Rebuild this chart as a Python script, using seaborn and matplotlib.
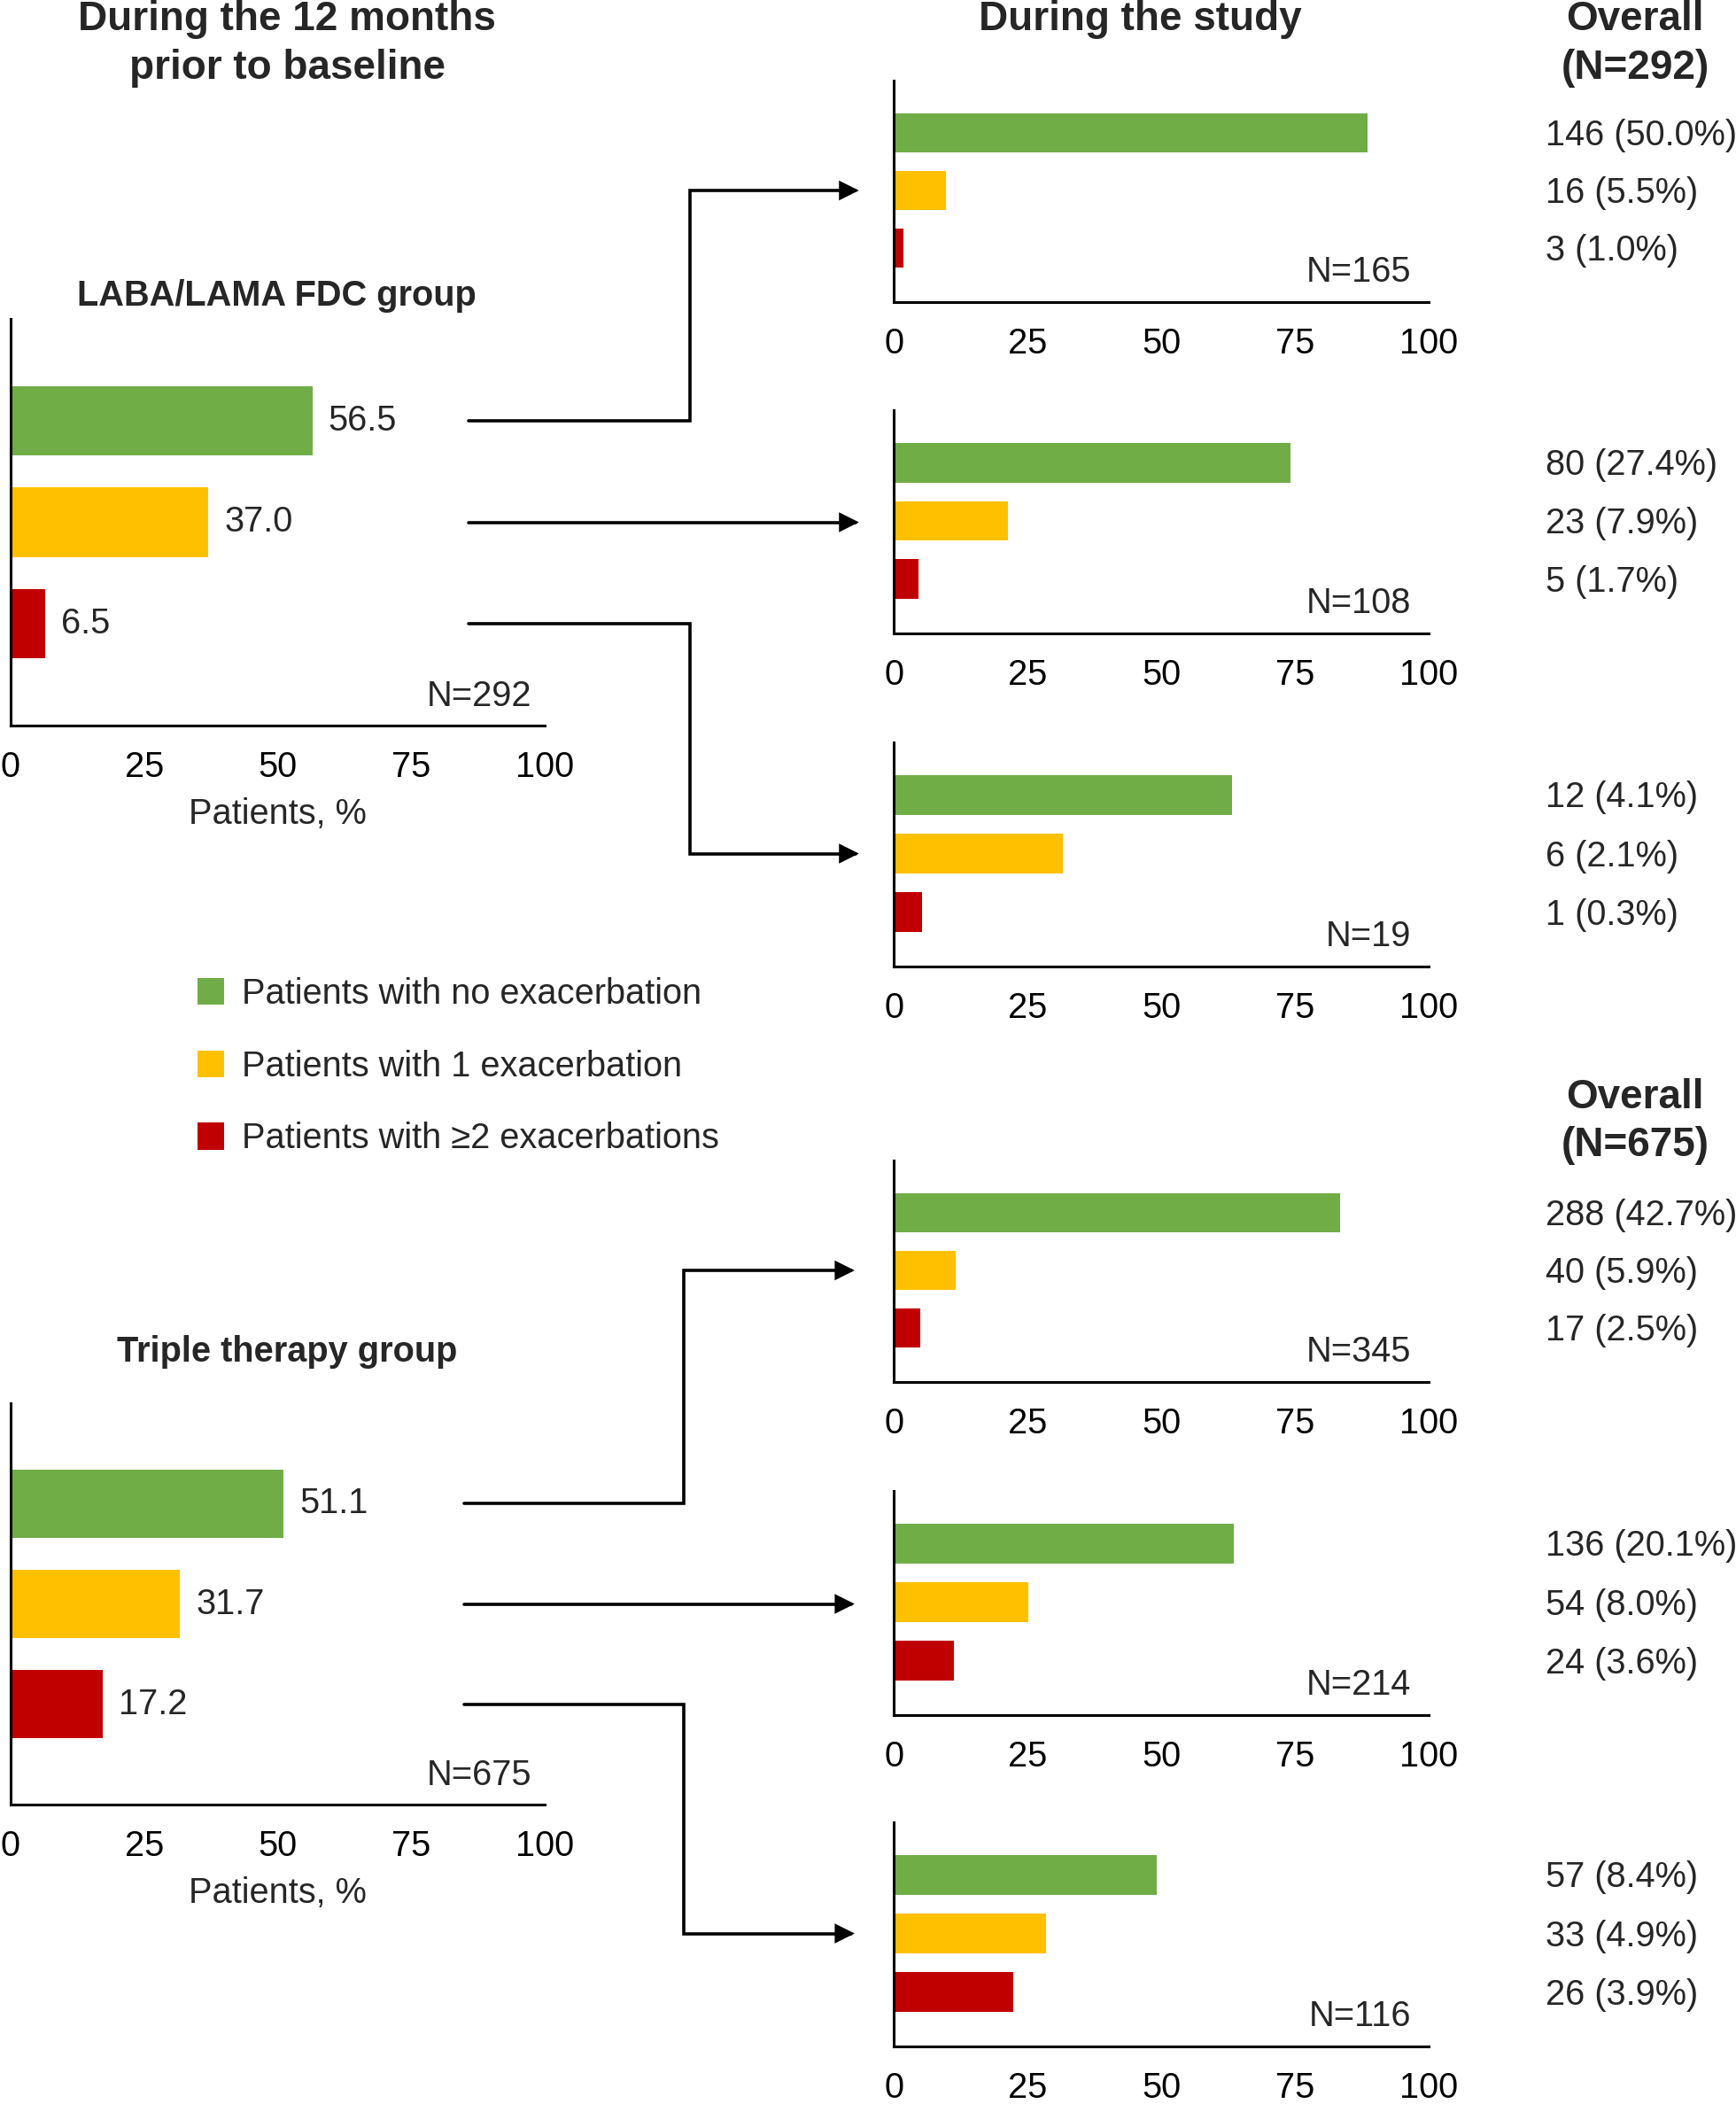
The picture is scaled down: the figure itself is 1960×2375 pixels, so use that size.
import matplotlib
matplotlib.use('Agg')
import matplotlib.pyplot as plt
import matplotlib.transforms as mtransforms
import seaborn as sns
import pandas as pd
from matplotlib.patches import Patch, FancyArrowPatch
from matplotlib.path import Path

# ---- data ----
categories = ['No exacerbation', '1 exacerbation', '\u22652 exacerbations']
legend_labels = ['Patients with no exacerbation',
                 'Patients with 1 exacerbation',
                 'Patients with \u22652 exacerbations']
colors = ['#70AD47', '#FFC000', '#C00000']
ticks = [0, 25, 50, 75, 100]

# 12 months prior to baseline, % of patients
laba_baseline = [56.5, 37.0, 6.5]
triple_baseline = [51.1, 31.7, 17.2]
laba_n = 292
triple_n = 675

# during the study, % of patients in each baseline subgroup
laba_study = [[88.5, 9.7, 1.8], [74.1, 21.3, 4.6], [63.2, 31.6, 5.3]]
laba_study_n = [165, 108, 19]
laba_overall = [['146 (50.0%)', '16 (5.5%)', '3 (1.0%)'],
                ['80 (27.4%)', '23 (7.9%)', '5 (1.7%)'],
                ['12 (4.1%)', '6 (2.1%)', '1 (0.3%)']]

triple_study = [[83.5, 11.6, 4.9], [63.6, 25.2, 11.2], [49.1, 28.4, 22.4]]
triple_study_n = [345, 214, 116]
triple_overall = [['288 (42.7%)', '40 (5.9%)', '17 (2.5%)'],
                  ['136 (20.1%)', '54 (8.0%)', '24 (3.6%)'],
                  ['57 (8.4%)', '33 (4.9%)', '26 (3.9%)']]

# ---- style ----
sns.set_style('white')
plt.rcParams['font.family'] = ['Liberation Sans', 'DejaVu Sans']
FS = 28.6
FSB = 33
LW = 2.2

W, H = 1960, 2375
fig = plt.figure(figsize=(W / 100, H / 100), dpi=100)


def px_axes(x0, y0, x1, y1):
    return fig.add_axes([x0 / W, 1 - y1 / H, (x1 - x0) / W, (y1 - y0) / H])


def draw_bars(ax, values, ylim):
    df = pd.DataFrame({'cat': categories, 'pct': values})
    sns.barplot(data=df, x='pct', y='cat', hue='cat', order=categories,
                hue_order=categories, palette=colors, saturation=1, width=0.68,
                linewidth=0, legend=False, orient='h', ax=ax)
    ax.set_xlim(0, 100)
    ax.set_ylim(*ylim)
    ax.set_xticks(ticks)
    ax.set_yticks(list(ylim))
    ax.set_yticklabels([])
    ax.set_xlabel('')
    ax.set_ylabel('')
    sns.despine(ax=ax)
    for s in ['left', 'bottom']:
        ax.spines[s].set_linewidth(LW)
        ax.spines[s].set_color('black')
    ax.tick_params(axis='x', direction='out', length=8, width=LW, pad=12,
                   labelsize=FS, colors='black')
    ax.tick_params(axis='y', direction='out', length=5, width=LW)


left_boxes = [(12, 360, 615, 819), (12, 1584, 615, 2037)]
right_boxes = [[(1009, 91, 1613, 341), (1009, 463, 1613, 715), (1009, 838, 1613, 1091)],
               [(1009, 1310, 1613, 1560), (1009, 1683, 1613, 1936), (1009, 2057, 1613, 2310)]]

groups = [
    dict(title='LABA/LAMA FDC group', base=laba_baseline, n=laba_n,
         study=laba_study, study_n=laba_study_n, overall=laba_overall,
         title_xy=(312, 334), start_x=85.7, elbow=779, end_x=-6.5),
    dict(title='Triple therapy group', base=triple_baseline, n=triple_n,
         study=triple_study, study_n=triple_study_n, overall=triple_overall,
         title_xy=(324, 1526), start_x=84.9, elbow=772, end_x=-7.3),
]

to_fig = fig.transFigure.inverted()

for g, lbox, rboxes in zip(groups, left_boxes, right_boxes):
    axl = px_axes(*lbox)
    draw_bars(axl, g['base'], (3, -1))
    for cont, v in zip(axl.containers, g['base']):
        axl.bar_label(cont, labels=[f'{v:.1f}'], padding=13, fontsize=FS)
    axl.set_xlabel('Patients, %', fontsize=FS, labelpad=11)
    axl.text(0.975, 0.03, f'N={g["n"]}', transform=axl.transAxes,
             ha='right', va='bottom', fontsize=FS)
    fig.text(g['title_xy'][0] / W, 1 - g['title_xy'][1] / H, g['title'],
             ha='center', va='center', fontsize=FS, fontweight='bold')

    for i, (vals, n, over, rbox) in enumerate(zip(g['study'], g['study_n'],
                                                   g['overall'], rboxes)):
        axr = px_axes(*rbox)
        draw_bars(axr, vals, (2.93, -0.9))
        axr.text(0.967, 0.06, f'N={n}', transform=axr.transAxes,
                 ha='right', va='bottom', fontsize=FS)
        tr = mtransforms.blended_transform_factory(axr.transAxes, axr.transData)
        tr = mtransforms.offset_copy(tr, fig=fig, y=-3, units='dots')
        for j, s in enumerate(over):
            axr.text(1.218, j, s, transform=tr, ha='left', va='center',
                     fontsize=FS, clip_on=False)

        # connector from baseline bar i to this panel
        p0 = axl.transData.transform((g['start_x'], i))
        p1 = axr.transData.transform((g['end_x'], 1))
        if abs(p1[1] - p0[1]) < 4:
            p1 = (p1[0], p0[1])
        ex = g['elbow'] / W * fig.bbox.width
        verts = [p0, (ex, p0[1]), (ex, p1[1]), p1]
        verts = [tuple(to_fig.transform(v)) for v in verts]
        path = Path(verts, [Path.MOVETO] + [Path.LINETO] * 3)
        arr = FancyArrowPatch(path=path, arrowstyle='-|>', mutation_scale=30,
                              lw=2.6, color='black', transform=fig.transFigure,
                              joinstyle='miter')
        fig.add_artist(arr)

# headers
fig.text(324 / W, 1 - 49.5 / H, 'During the 12 months\nprior to baseline',
         ha='center', va='center', fontsize=FSB, fontweight='bold', linespacing=1.3)
fig.text(1287 / W, 1 - 22 / H, 'During the study',
         ha='center', va='center', fontsize=FSB, fontweight='bold')
fig.text(1846 / W, 1 - 49.5 / H, 'Overall\n(N=292)',
         ha='center', va='center', fontsize=FSB, fontweight='bold', linespacing=1.3)
fig.text(1846 / W, 1 - 1266 / H, 'Overall\n(N=675)',
         ha='center', va='center', fontsize=FSB, fontweight='bold', linespacing=1.3)

# legend
handles = [Patch(facecolor=c, edgecolor='none') for c in colors]
fig.legend(handles, legend_labels, loc='upper left',
           bbox_to_anchor=(223 / W, 1 - 1103 / H), frameon=False, fontsize=FS,
           handlelength=0.75, handleheight=0.8, handletextpad=0.5,
           labelspacing=1.1, borderpad=0, borderaxespad=0)

fig.savefig('out.png', dpi=100)
